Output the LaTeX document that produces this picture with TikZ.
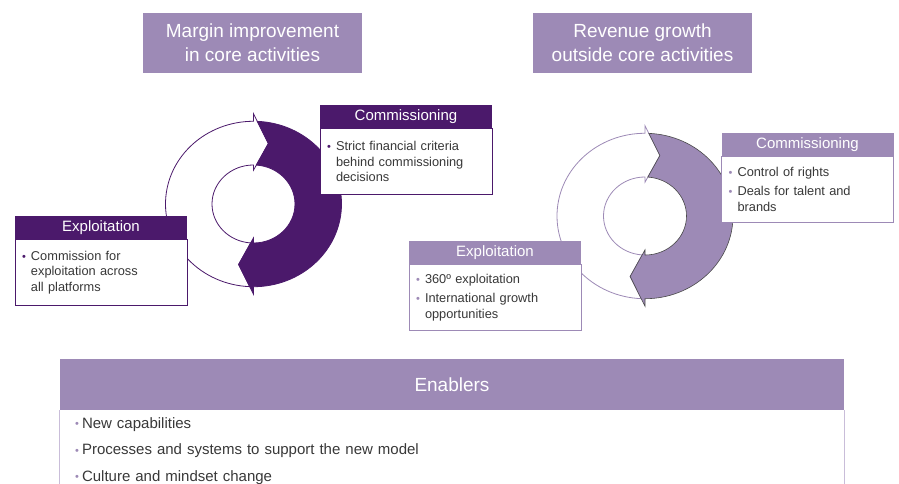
\documentclass[tikz,border=0pt]{standalone}
\usepackage{fontspec}
\setmainfont{Liberation Sans}
\usepackage{tikz}
\usetikzlibrary{positioning}
\definecolor{plumDark}{HTML}{4B196B}
\definecolor{plumLt}{HTML}{9D8AB6}
\definecolor{plumPale}{HTML}{C9BDD9}
\definecolor{inkGray}{HTML}{383838}
\definecolor{rimGray}{HTML}{4A4A4A}
\newcommand{\dotitem}[3][9pt]{\hangindent=#1\hangafter=1\noindent
  \makebox[#1][l]{\textcolor{#2}{\raisebox{0.4pt}{\fontsize{11}{11}\selectfont\textbullet}}}#3\par}
\tikzset{
  titlebox/.style={fill=plumLt, text=white, minimum width=219pt,
                   minimum height=60pt, inner sep=0pt, align=center,
                   font=\fontsize{19}{24}\selectfont},
  hdrbox/.style={minimum width=172pt, minimum height=23pt, inner sep=0pt,
                 text=white, font=\fontsize{15}{18}\selectfont},
  bodybox/.style={draw, fill=white, line width=0.8pt, minimum width=172pt,
                  minimum height=66pt, text width=158pt, inner xsep=7pt,
                  inner ysep=4pt, align=left, text=inkGray,
                  font=\fontsize{12.8}{15.5}\selectfont,
                  execute at begin node=\setlength{\parskip}{3.5pt}},
  enbody/.style={text width=754pt, inner xsep=15pt, inner ysep=7pt,
                 align=left, text=inkGray, font=\fontsize{15}{18}\selectfont,
                 execute at begin node=\setlength{\parskip}{8.5pt}},
  ringline/.style={line width=0.8pt, fill=white},
}

\begin{document}
\begin{tikzpicture}[x=1pt, y=1pt]
\useasboundingbox (0,0) rectangle (899,483);
\clip (0,0) rectangle (899,483);
\coordinate (lcyc) at (253.5,279);
\coordinate (rcyc) at (645,267);
%% Cycles
\begin{scope}[shift={(lcyc)}, yscale=0.94]
  \draw[ringline, draw=plumDark] (267.5:88pt) arc[start angle=267.5, end angle=90, radius=88pt]
    -- (90:96pt) -- (77:66pt) -- (90:36pt) -- (90:41.5pt)
    arc[start angle=90, end angle=266.1, radius=41.5pt] -- (257:66pt) -- cycle;
  \filldraw[line width=0.8pt, fill=plumDark, draw=plumDark] (87.5:88pt) arc[start angle=87.5, end angle=-90, radius=88pt]
    -- (-90:96pt) -- (-103:66pt) -- (-90:36pt) -- (-90:41.5pt)
    arc[start angle=-90, end angle=86.1, radius=41.5pt] -- (77:66pt) -- cycle;
\end{scope}
\begin{scope}[shift={(rcyc)}, yscale=0.94]
  \draw[ringline, draw=plumLt] (267.5:88pt) arc[start angle=267.5, end angle=90, radius=88pt]
    -- (90:96pt) -- (77:66pt) -- (90:36pt) -- (90:41.5pt)
    arc[start angle=90, end angle=266.1, radius=41.5pt] -- (257:66pt) -- cycle;
  \filldraw[line width=0.6pt, fill=plumLt, draw=rimGray] (87.5:88pt) arc[start angle=87.5, end angle=-90, radius=88pt]
    -- (-90:96pt) -- (-103:66pt) -- (-90:36pt) -- (-90:41.5pt)
    arc[start angle=-90, end angle=86.1, radius=41.5pt] -- (77:66pt) -- cycle;
\end{scope}
%% Titles
\node[titlebox] (ltitle) at (252.5,440) {Margin improvement\\in core activities};
\node[titlebox] (rtitle) at (642.5,440) {Revenue growth\\outside core activities};
%% Left boxes
\node[hdrbox, fill=plumDark] (lcomhdr) at (406,366.5) {Commissioning};
\node[bodybox, draw=plumDark, below=0pt of lcomhdr] (lcombody)
  {\dotitem{plumDark}{Strict financial criteria\newline behind commissioning\newline decisions}};
\node[hdrbox, fill=plumDark] (lexphdr) at (101,255.5) {Exploitation};
\node[bodybox, draw=plumDark, below=0pt of lexphdr] (lexpbody)
  {\dotitem{plumDark}{Commission for\newline exploitation across\newline all platforms}};
%% Right boxes
\node[hdrbox, fill=plumLt] (rcomhdr) at (807.5,338.5) {Commissioning};
\node[bodybox, draw=plumLt, below=0pt of rcomhdr] (rcombody)
  {\dotitem{plumLt}{Control of rights}\dotitem{plumLt}{Deals for talent and\newline brands}};
\node[hdrbox, fill=plumLt] (rexphdr) at (495,230.5) {Exploitation};
\node[bodybox, draw=plumLt, below=0pt of rexphdr] (rexpbody)
  {\dotitem{plumLt}{360º exploitation}\dotitem{plumLt}{International growth\newline opportunities}};
%% Enablers
\node[fill=plumLt, text=white, minimum width=784pt, minimum height=51pt, inner sep=0pt,
      font=\fontsize{19}{24}\selectfont] (enhdr) at (452,98.5) {Enablers};
\node[enbody, below=0pt of enhdr] (enbody)
  {\dotitem[7pt]{plumLt}{New capabilities}
   \dotitem[7pt]{plumLt}{Processes and systems to support the new model}
   \dotitem[7pt]{plumLt}{Culture and mindset change}};
\draw[plumPale, line width=0.8pt] (enbody.north west) -- ++(0,-90);
\draw[plumPale, line width=0.8pt] (enbody.north east) -- ++(0,-90);
\end{tikzpicture}
\end{document}
